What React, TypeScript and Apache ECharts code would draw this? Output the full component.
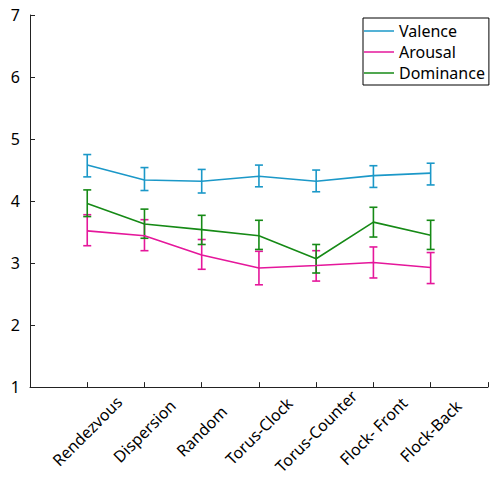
import React, { useEffect, useRef } from "react";
import * as echarts from "echarts";

const categories = ["Rendezvous", "Dispersion", "Random", "Torus-Clock", "Torus-Counter", "Flock- Front", "Flock-Back"];
const valence = [4.58, 4.34, 4.32, 4.40, 4.32, 4.41, 4.45];
const valenceLow = [4.39, 4.17, 4.13, 4.23, 4.15, 4.22, 4.26];
const valenceHigh = [4.75, 4.54, 4.51, 4.58, 4.50, 4.57, 4.61];
const arousal = [3.52, 3.44, 3.13, 2.92, 2.96, 3.01, 2.93];
const arousalLow = [3.28, 3.20, 2.90, 2.65, 2.71, 2.76, 2.67];
const arousalHigh = [3.78, 3.70, 3.38, 3.19, 3.20, 3.26, 3.17];
const dominance = [3.96, 3.63, 3.54, 3.44, 3.07, 3.66, 3.45];
const dominanceLow = [3.75, 3.40, 3.30, 3.22, 2.84, 3.42, 3.22];
const dominanceHigh = [4.18, 3.87, 3.77, 3.69, 3.30, 3.90, 3.69];
const yTicks = [1, 7, 1];

const COLORS = { valence: "#1b98c8", arousal: "#e5179b", dominance: "#168a16" };
const FONT = "Noto Sans";

function lineSeries(name: string, vals: number[], color: string) {
  return {
    name,
    type: "line",
    data: vals.map((v, i) => [i + 1, v]),
    symbol: "none",
    lineStyle: { color, width: 1.6 },
    itemStyle: { color },
    z: 3,
  };
}

function errSeries(name: string, low: number[], high: number[], color: string) {
  return {
    name,
    type: "custom",
    data: low.map((l, i) => [i + 1, l, high[i]]),
    renderItem: (params: any, api: any) => {
      const x = api.value(0);
      const lo = api.coord([x, api.value(1)]);
      const hi = api.coord([x, api.value(2)]);
      const hw = 4;
      const style = { stroke: color, lineWidth: 1.6, fill: "none" };
      return {
        type: "group",
        children: [
          { type: "line", shape: { x1: lo[0], y1: lo[1], x2: hi[0], y2: hi[1] }, style },
          { type: "line", shape: { x1: lo[0] - hw, y1: lo[1], x2: lo[0] + hw, y2: lo[1] }, style },
          { type: "line", shape: { x1: hi[0] - hw, y1: hi[1], x2: hi[0] + hw, y2: hi[1] }, style },
        ],
      };
    },
    z: 2,
  };
}

export default function App() {
  const ref = useRef<HTMLDivElement>(null);
  useEffect(() => {
    const chart = echarts.init(ref.current!, null, { renderer: "svg" });
    chart.setOption({
      animation: false,
      textStyle: { fontFamily: FONT },
      grid: { left: 30, top: 15, bottom: 89, width: 464 },
      legend: {
        data: ["Valence", "Arousal", "Dominance"],
        orient: "vertical",
        left: 363,
        top: 18,
        icon: "rect",
        itemWidth: 30,
        itemHeight: 1.5,
        itemGap: 3,
        padding: [4, 4, 3, 1],
        borderColor: "#000",
        borderWidth: 1,
        textStyle: { fontFamily: FONT, fontSize: 16, color: "#000", lineHeight: 18 },
      },
      xAxis: {
        type: "value",
        min: 0,
        max: 8,
        interval: 1,
        splitLine: { show: false },
        axisLine: { show: true, lineStyle: { color: "#222", width: 1 } },
        axisTick: { show: true, inside: true, length: 5, lineStyle: { color: "#222" } },
        axisLabel: {
          rotate: 45,
          align: "center",
          verticalAlign: "middle",
          margin: 44,
          fontSize: 16,
          fontFamily: FONT,
          color: "#000",
          formatter: (v: number) => categories[v - 1] || "",
        },
      },
      yAxis: {
        type: "value",
        min: yTicks[0],
        max: yTicks[1],
        interval: yTicks[2],
        splitLine: { show: false },
        axisLine: { show: true, lineStyle: { color: "#222", width: 1 } },
        axisTick: { show: true, inside: true, length: 5, lineStyle: { color: "#222" } },
        axisLabel: { fontSize: 16, fontFamily: FONT, color: "#000", margin: 10 },
      },
      series: [
        lineSeries("Valence", valence, COLORS.valence),
        lineSeries("Arousal", arousal, COLORS.arousal),
        lineSeries("Dominance", dominance, COLORS.dominance),
        errSeries("Valence", valenceLow, valenceHigh, COLORS.valence),
        errSeries("Arousal", arousalLow, arousalHigh, COLORS.arousal),
        errSeries("Dominance", dominanceLow, dominanceHigh, COLORS.dominance),
      ],
    });
    return () => chart.dispose();
  }, []);
  return <div ref={ref} style={{ width: 490, height: 477, position: "absolute", left: 0, top: 0 }} />;
}
